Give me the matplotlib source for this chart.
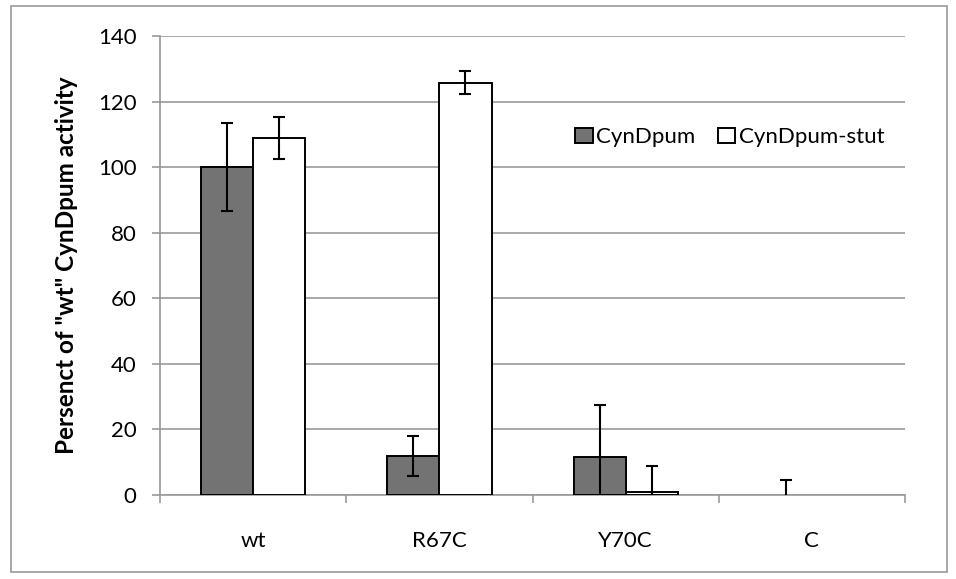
import matplotlib.pyplot as plt
import numpy as np
from matplotlib.patches import Rectangle

plt.rcParams['font.family'] = ['Lato', 'DejaVu Sans']

groups = ['wt', 'R67C', 'Y70C', 'C']
cyndpum = [100, 11.8, 11.7, 0]
cyndpum_err = [13.4, 6.1, 15.7, 4.6]
stut = [108.8, 125.7, 0.8, 0]
stut_err = [6.4, 3.5, 8.0, 0]

fig = plt.figure(figsize=(9.56, 5.79), dpi=100)
fig.patches.append(Rectangle((0.011, 0.012), 0.98, 0.978, transform=fig.transFigure,
                             fill=False, edgecolor='#999999', linewidth=1.2))
ax = fig.add_axes([0.1674, 0.1451, 0.7793, 0.7927])

x = np.arange(len(groups))
w = 0.28
b1 = ax.bar(x - w / 2, cyndpum, w, color='#737373', edgecolor='black', linewidth=1.4,
            label='CynDpum', zorder=3)
b2 = ax.bar(x + w / 2, stut, w, color='white', edgecolor='black', linewidth=1.4,
            label='CynDpum-stut', zorder=3)
# zero-height bars leave no outline
for p in list(b1) + list(b2):
    if p.get_height() == 0:
        p.set_linewidth(0)

err_kw = dict(fmt='none', ecolor='black', elinewidth=1.5, capsize=4.5, capthick=1.5, zorder=4)
for xs, vals, errs in [(x - w / 2, cyndpum, cyndpum_err), (x + w / 2, stut, stut_err)]:
    keep = [i for i, e in enumerate(errs) if e > 0]
    ax.errorbar(xs[keep], np.array(vals)[keep], yerr=np.array(errs)[keep], **err_kw)

ax.set_xlim(-0.5, len(groups) - 0.5)
ax.set_ylim(0, 140)
ax.set_yticks(range(0, 141, 20))
ax.yaxis.grid(True, color='#999999', linewidth=1.2, zorder=0)
ax.set_axisbelow(True)

ax.set_xticks(x)
ax.set_xticklabels(groups)
ax.set_xticks(np.arange(-0.5, len(groups), 1), minor=True)
ax.tick_params(axis='x', which='major', length=0, pad=26, labelsize=16)
ax.tick_params(axis='x', which='minor', length=6, color='#999999', width=1.2)
ax.tick_params(axis='y', length=6, color='#999999', width=1.2, labelsize=16, pad=11)

for s in ['top', 'right']:
    ax.spines[s].set_visible(False)
for s in ['left', 'bottom']:
    ax.spines[s].set_color('#999999')
    ax.spines[s].set_linewidth(1.2)

ax.set_ylabel('Persenct of "wt" CynDpum activity', fontsize=17.5, fontweight='bold', labelpad=14)

ax.legend(loc='center left', bbox_to_anchor=(0.557, 0.78), ncol=2, frameon=False,
          fontsize=16, handlelength=0.8, handleheight=0.68, handletextpad=0.15,
          columnspacing=1.0, borderpad=0, borderaxespad=0)

fig.savefig('out.png', dpi=100)
